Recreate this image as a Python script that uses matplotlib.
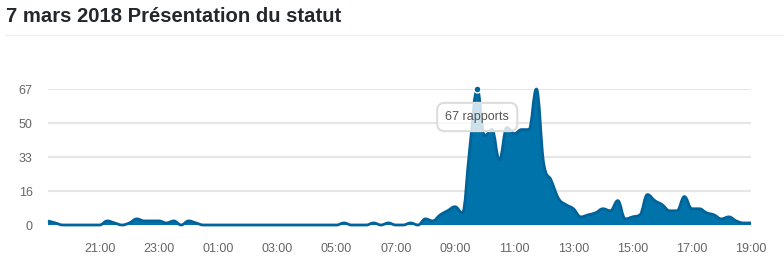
import numpy as np
import pandas as pd
import matplotlib
matplotlib.use("Agg")
import matplotlib.pyplot as plt
import matplotlib.dates as mdates
from matplotlib.path import Path
from matplotlib.patches import PathPatch

# reports per 15 minutes, 6 Mar 19:15 -> 7 Mar 19:00
times = pd.date_range("2018-03-06 19:15", "2018-03-07 19:00", freq="15min")
reports = [
    2, 1, 0, 0, 0, 0, 0, 0,          # 19:15 - 21:00
    2, 1, 0, 1, 3, 2, 2, 2,          # 21:15 - 23:00
    1, 2, 0, 2, 1, 0, 0, 0,          # 23:15 - 01:00
    0, 0, 0, 0, 0, 0, 0, 0,          # 01:15 - 03:00
    0, 0, 0, 0, 0, 0, 0, 0,          # 03:15 - 05:00
    1, 0, 0, 0, 1, 0, 1, 0,          # 05:15 - 07:00
    0, 1, 0, 3, 2, 5, 7, 9,          # 07:15 - 09:00
    6, 38, 67, 44, 47, 32, 48, 45,   # 09:15 - 11:00
    47, 47, 67, 30, 22, 13, 10, 8,   # 11:15 - 13:00
    4, 5, 6, 8, 7, 12, 3, 4,         # 13:15 - 15:00
    5, 15, 12, 10, 7, 7, 14, 8,      # 15:15 - 17:00
    8, 6, 5, 3, 4, 2, 1, 1,          # 17:15 - 19:00
]
y_ticks = [0, 16.75, 33.5, 50.25, 67]
y_labels = ["0", "16", "33", "50", "67"]
tick_hours = ["2018-03-06 21:00", "2018-03-06 23:00", "2018-03-07 01:00",
              "2018-03-07 03:00", "2018-03-07 05:00", "2018-03-07 07:00",
              "2018-03-07 09:00", "2018-03-07 11:00", "2018-03-07 13:00",
              "2018-03-07 15:00", "2018-03-07 17:00", "2018-03-07 19:00"]
title = "7 mars 2018 Présentation du statut"
tooltip = "67 rapports"

fill_col = "#0073aa"
line_col = "#00649a"


def spline_verts(xs, ys, smoothing=1.5):
    # highcharts style spline: cubic bezier control points per point
    n = len(xs)
    lc = [(xs[i], ys[i]) for i in range(n)]
    rc = [(xs[i], ys[i]) for i in range(n)]
    d = smoothing + 1
    for i in range(1, n - 1):
        x, y = xs[i], ys[i]
        lx, ly = xs[i - 1], ys[i - 1]
        nx, ny = xs[i + 1], ys[i + 1]
        lcx, lcy = (smoothing * x + lx) / d, (smoothing * y + ly) / d
        rcx, rcy = (smoothing * x + nx) / d, (smoothing * y + ny) / d
        corr = (rcy - lcy) * (rcx - x) / (rcx - lcx) + y - rcy
        lcy += corr
        rcy += corr
        if lcy > ly and lcy > y:
            lcy = max(ly, y)
            rcy = 2 * y - lcy
        elif lcy < ly and lcy < y:
            lcy = min(ly, y)
            rcy = 2 * y - lcy
        if rcy > ny and rcy > y:
            rcy = max(ny, y)
            lcy = 2 * y - rcy
        elif rcy < ny and rcy < y:
            rcy = min(ny, y)
            lcy = 2 * y - rcy
        lc[i] = (lcx, lcy)
        rc[i] = (rcx, rcy)
    verts = [(xs[0], ys[0])]
    codes = [Path.MOVETO]
    for i in range(1, n):
        verts += [rc[i - 1], lc[i], (xs[i], ys[i])]
        codes += [Path.CURVE4] * 3
    return verts, codes


xs = mdates.date2num(times.to_pydatetime())
ys = np.array(reports, dtype=float)

fig = plt.figure(figsize=(7.84, 2.69), dpi=100)
plt.rcParams["font.family"] = ["Liberation Sans", "DejaVu Sans"]

fig.text(6 / 784, 1 - 22 / 269, title, fontsize=14.6, fontweight="bold",
         color="#23282d", ha="left", va="baseline")
fig.add_artist(plt.Line2D([6 / 784, 1], [1 - 34.5 / 269] * 2,
                          color="#eeeeee", lw=1, transform=fig.transFigure))

ax = fig.add_axes([48 / 784, 44 / 269, 703 / 784, 136 / 269])

verts, codes = spline_verts(xs, ys)
area_verts = verts + [(xs[-1], 0), (xs[0], 0), (xs[0], ys[0])]
area_codes = codes + [Path.LINETO, Path.LINETO, Path.CLOSEPOLY]
ax.add_patch(PathPatch(Path(area_verts, area_codes), fc=fill_col, ec="none",
                       zorder=2, clip_on=False))
ax.add_patch(PathPatch(Path(verts, codes), fc="none", ec=line_col, lw=2,
                       zorder=3, clip_on=False, joinstyle="round"))

peak = int(np.argmax(ys))
ax.plot([xs[peak]], [ys[peak]], "o", ms=5, color=line_col, mec="white",
        mew=1, zorder=5, clip_on=False)
ax.annotate(tooltip, (xs[peak], ys[peak]), xytext=(0, -28),
            textcoords="offset pixels", ha="center", va="center",
            fontsize=9, color="#555555", zorder=6,
            bbox=dict(boxstyle="round,pad=0.65,rounding_size=0.6",
                      fc=(1, 1, 1, 0.8), ec="#dddddd", lw=1.5))

ax.set_xlim(xs[0], xs[-1])
ax.set_ylim(0, 67)
ax.set_yticks(y_ticks)
ax.set_yticklabels(y_labels)
ax.set_xticks(mdates.date2num(pd.to_datetime(tick_hours).to_pydatetime()))
ax.xaxis.set_major_formatter(mdates.DateFormatter("%H:%M"))
ax.grid(axis="y", color="#e6e6e6", lw=1.5, zorder=0)
ax.set_axisbelow(True)
for s in ax.spines.values():
    s.set_visible(False)
ax.tick_params(axis="both", length=0, labelsize=9, labelcolor="#666666")
ax.tick_params(axis="x", pad=13)
ax.tick_params(axis="y", pad=11)

fig.savefig("out.png", dpi=100)
